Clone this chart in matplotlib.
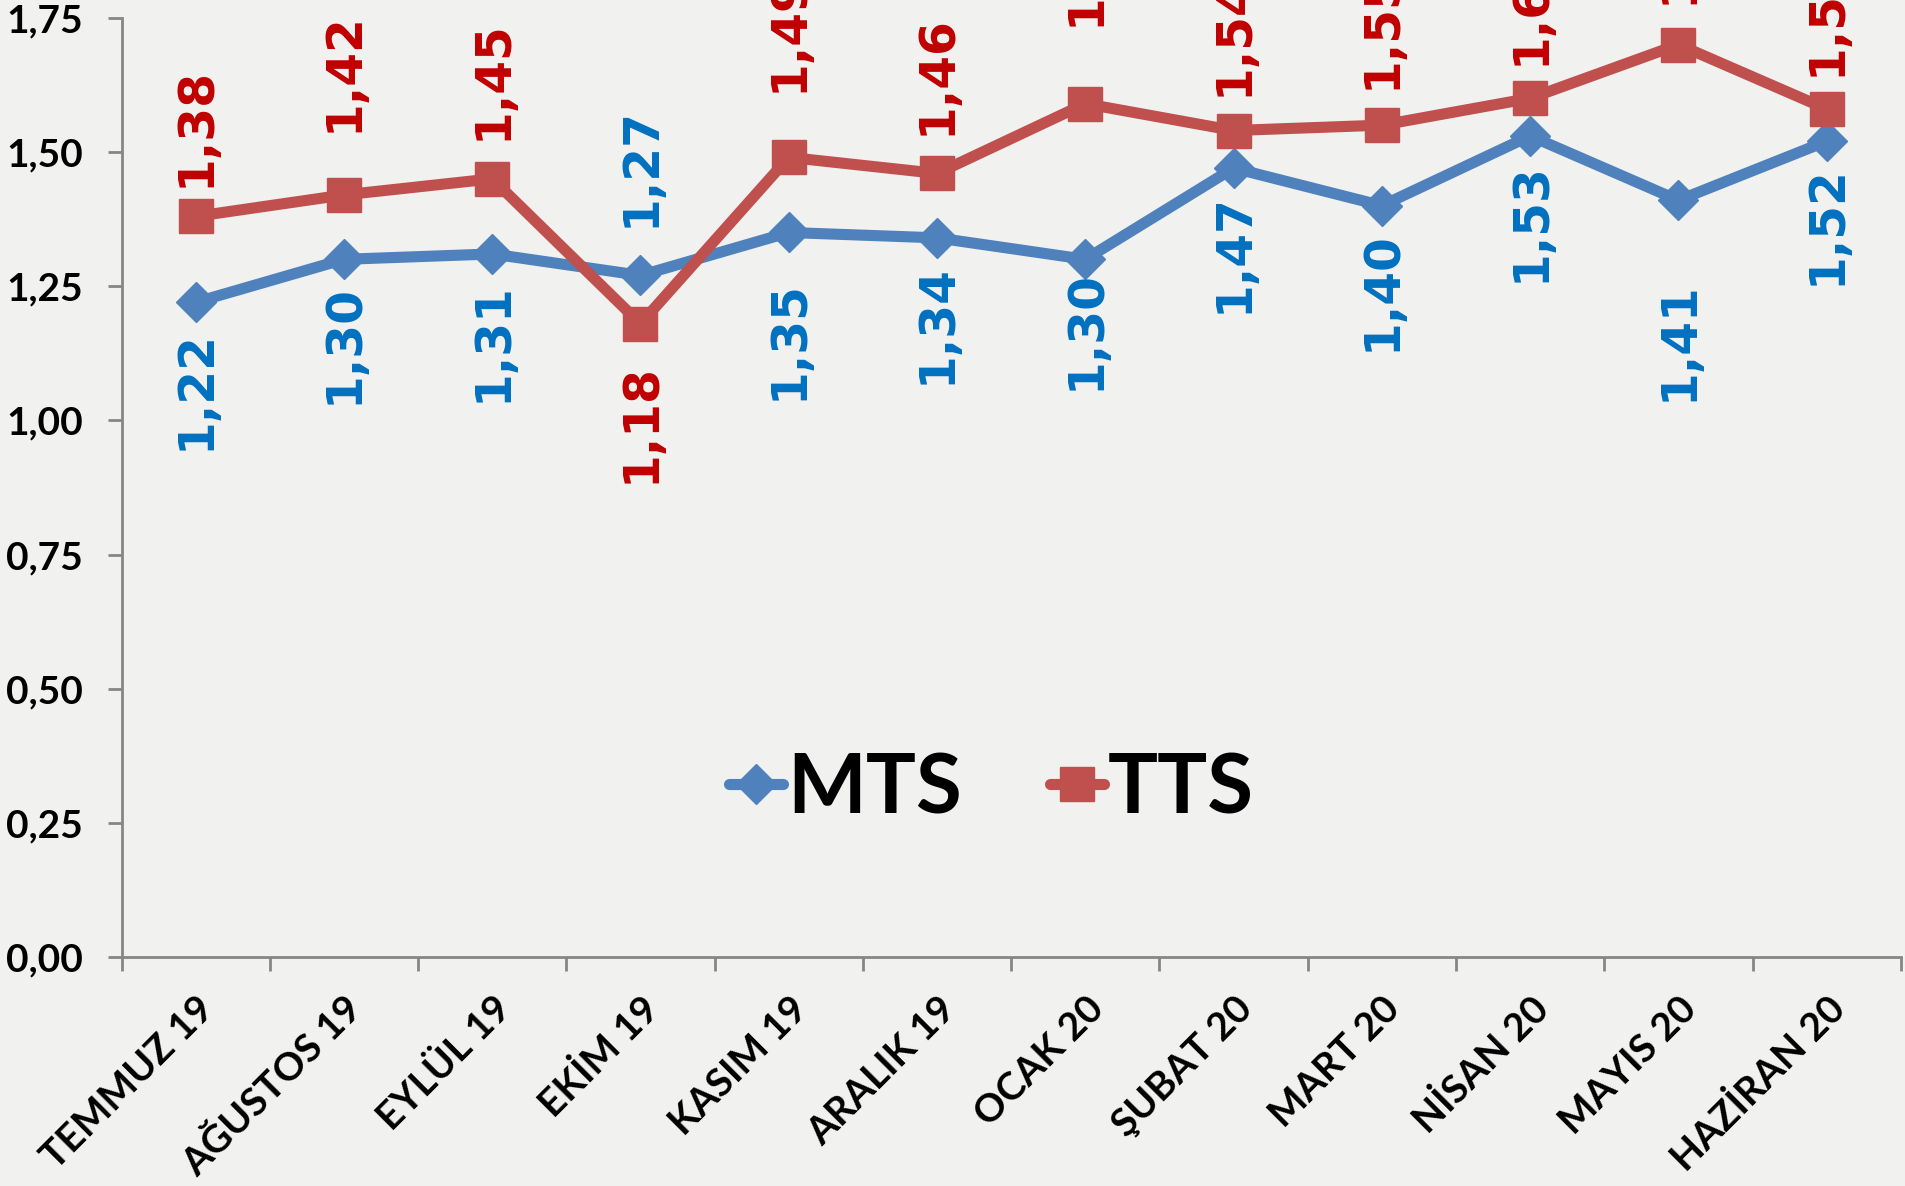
import matplotlib

matplotlib.use("Agg")
import matplotlib.pyplot as plt

MONTHS = ["TEMMUZ 19", "AĞUSTOS 19", "EYLÜL 19", "EKİM 19", "KASIM 19", "ARALIK 19",
          "OCAK 20", "ŞUBAT 20", "MART 20", "NİSAN 20", "MAYIS 20", "HAZİRAN 20"]
MTS = [1.22, 1.30, 1.31, 1.27, 1.35, 1.34, 1.30, 1.47, 1.40, 1.53, 1.41, 1.52]
TTS = [1.38, 1.42, 1.45, 1.18, 1.49, 1.46, 1.59, 1.54, 1.55, 1.60, 1.70, 1.58]
Y_TICKS = [0.00, 0.25, 0.50, 0.75, 1.00, 1.25, 1.50, 1.75]

# label placement (points from the marker; negative = below), as hand-placed in the original
MTS_LABEL_OFF = [-20, -18, -20, 35, -34, -19, -8, -18, -18, -19, -58, -17]
TTS_LABEL_OFF = [21, 45, 28, -28, 47, 28, 56, 25, 26, 24, 29, 24]

BLUE = "#4F81BD"
BLUE_TXT = "#0070C0"
RED = "#C0504D"
RED_TXT = "#C00000"
AXIS = "#868686"
BG = "#F1F1EF"
TICK_FONT = "Lato"


def comma(v):
    return f"{v:.2f}".replace(".", ",")


def put_labels(ax, values, offsets, colour):
    for xi, (v, off) in enumerate(zip(values, offsets)):
        ax.annotate(comma(v), (xi, v), xytext=(0, off), textcoords="offset points",
                    rotation=90, ha="center", va="bottom" if off > 0 else "top",
                    fontsize=35, fontweight="bold", color=colour, family="DejaVu Sans")


fig = plt.figure(figsize=(19.05, 11.86), dpi=100)
fig.patch.set_facecolor(BG)
ax = fig.add_axes([0.0638, 0.193, 0.934, 0.792])
ax.set_facecolor("none")

x = list(range(len(MONTHS)))
ax.plot(x, MTS, color=BLUE, lw=8, marker="D", ms=20, label="MTS", zorder=3,
        solid_capstyle="round")
ax.plot(x, TTS, color=RED, lw=8, marker="s", ms=24, label="TTS", zorder=3,
        solid_capstyle="round")

put_labels(ax, MTS, MTS_LABEL_OFF, BLUE_TXT)
put_labels(ax, TTS, TTS_LABEL_OFF, RED_TXT)

ax.set_xlim(-0.5, len(MONTHS) - 0.5)
ax.set_ylim(0, 1.75)

ax.set_yticks(Y_TICKS)
ax.set_yticklabels([comma(t) for t in Y_TICKS], fontsize=28, fontweight="bold",
                   family=TICK_FONT)
ax.set_xticks(x)
ax.set_xticklabels(MONTHS, fontsize=28, fontweight="bold", family=TICK_FONT,
                   rotation=45, ha="right", va="top", rotation_mode="anchor")
ax.set_xticks([i - 0.5 for i in range(len(MONTHS) + 1)], minor=True)
ax.tick_params(axis="x", which="major", length=0, pad=24)
ax.tick_params(axis="x", which="minor", length=10, width=2, color=AXIS)
ax.tick_params(axis="y", length=10, width=2, color=AXIS, pad=18)

for side in ("top", "right"):
    ax.spines[side].set_visible(False)
for side in ("left", "bottom"):
    ax.spines[side].set_color(AXIS)
    ax.spines[side].set_linewidth(2)

leg = ax.legend(loc="center", bbox_to_anchor=(0.489, 0.178), ncol=2, frameon=False,
                prop={"family": TICK_FONT, "weight": "bold", "size": 60},
                handlelength=0.65, handletextpad=0.05, columnspacing=1.05)

fig.savefig("out.png", dpi=100, facecolor=fig.get_facecolor())
